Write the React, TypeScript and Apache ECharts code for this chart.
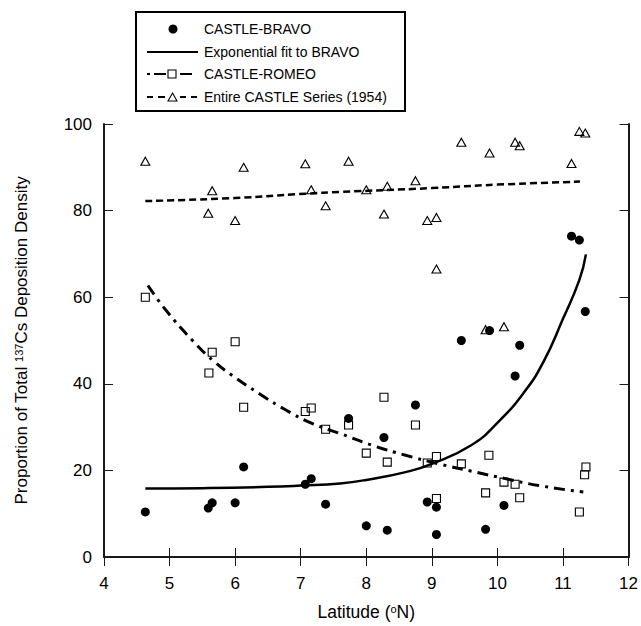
import React, { useEffect, useRef } from "react";
import * as echarts from "echarts";

// ---- Data ----
const bravoLat = [4.63, 5.59, 5.65, 6.0, 6.13, 7.07, 7.16, 7.38, 7.73, 8.0, 8.27, 8.32, 8.75, 8.93, 9.07, 9.07, 9.45, 9.82, 9.88, 10.1, 10.27, 10.34, 11.13, 11.25, 11.34];
const bravoVal = [10.4, 11.3, 12.5, 12.5, 20.8, 16.8, 18.1, 12.2, 32.0, 7.2, 27.6, 6.2, 35.1, 12.7, 11.5, 5.2, 50.0, 6.4, 52.3, 11.9, 41.8, 48.9, 74.1, 73.2, 56.7];

const romeoLat = [4.63, 5.6, 5.65, 6.0, 6.13, 7.07, 7.16, 7.38, 7.73, 8.0, 8.27, 8.32, 8.75, 8.93, 9.07, 9.07, 9.45, 9.82, 9.87, 10.1, 10.27, 10.34, 11.25, 11.33, 11.35];
const romeoVal = [60.0, 42.5, 47.3, 49.7, 34.6, 33.6, 34.4, 29.5, 30.5, 24.0, 36.9, 21.9, 30.5, 21.7, 23.2, 13.5, 21.5, 14.8, 23.5, 17.3, 16.8, 13.7, 10.4, 19.0, 20.8];

const castleLat = [4.63, 5.59, 5.65, 6.0, 6.13, 7.07, 7.16, 7.38, 7.73, 8.0, 8.27, 8.32, 8.75, 8.93, 9.07, 9.07, 9.45, 9.82, 9.88, 10.1, 10.27, 10.34, 11.13, 11.25, 11.34];
const castleVal = [91.4, 79.4, 84.6, 77.7, 90.0, 90.8, 84.8, 81.1, 91.4, 84.8, 79.2, 85.6, 86.9, 77.7, 78.4, 66.5, 95.8, 52.5, 93.3, 53.2, 95.8, 95.0, 90.9, 98.3, 97.9];

const bravoFitLat = [4.63, 5.5, 6.5, 7.0, 7.6, 8.0, 8.6, 9.0, 9.6, 10.0, 10.4, 10.7, 11.0, 11.25, 11.35];
const bravoFitVal = [15.8, 15.9, 16.2, 16.5, 17.0, 17.8, 19.6, 21.5, 25.8, 31.0, 37.9, 45.0, 55.0, 64.0, 69.9];

const romeoFitLat = [4.67, 4.95, 5.35, 5.66, 5.96, 6.37, 6.78, 7.18, 7.64, 8.09, 8.6, 9.11, 9.61, 10.12, 10.63, 11.31];
const romeoFitVal = [62.7, 56.9, 50.0, 45.4, 41.9, 37.7, 33.9, 30.8, 28.3, 25.8, 23.5, 21.5, 19.8, 18.1, 16.5, 15.0];

const castleFitLat = [4.63, 6.0, 7.07, 7.6, 9.0, 10.0, 11.26];
const castleFitVal = [82.2, 82.9, 83.9, 84.3, 85.2, 86.0, 86.7];

const legendLabels = [
  "CASTLE-BRAVO",
  "Exponential fit to BRAVO",
  "CASTLE-ROMEO",
  "Entire CASTLE Series (1954)",
];

const FONT = '"Liberation Sans", Arial, Helvetica, sans-serif';
const AXIS_COLOR = "#1a1a1a";

const pairs = (xs: number[], ys: number[]) => xs.map((x, i) => [x, ys[i]]);

export default function App() {
  const ref = useRef<HTMLDivElement>(null);

  useEffect(() => {
    document.body.style.margin = "0";
    if (!ref.current) return;
    const chart = echarts.init(ref.current, null, { renderer: "svg" });

    const rowY = [29, 52, 74, 97];
    const lx = 204;
    const seg = (x1: number, x2: number, y: number, w = 2) => ({
      type: "line",
      shape: { x1, y1: y, x2, y2: y },
      style: { stroke: "#000", lineWidth: w },
      z: 101,
    });

    const graphic: any[] = [
      {
        type: "rect",
        shape: { x: 136, y: 12, width: 269, height: 99 },
        style: { fill: "#fff", stroke: "#000", lineWidth: 2 },
        z: 100,
      },
      { type: "circle", shape: { cx: 173, cy: rowY[0], r: 4.5 }, style: { fill: "#000" }, z: 101 },
      seg(147, 198, rowY[1], 2),
      seg(147, 150, rowY[2], 2),
      seg(154, 166, rowY[2], 2),
      seg(180, 192, rowY[2], 2),
      {
        type: "rect",
        shape: { x: 168, y: rowY[2] - 4, width: 8, height: 8 },
        style: { fill: "#fff", stroke: "#000", lineWidth: 1.1 },
        z: 102,
      },
      seg(147, 153, rowY[3], 2),
      seg(158, 165, rowY[3], 2),
      seg(180, 186, rowY[3], 2),
      seg(191, 197, rowY[3], 2),
      {
        type: "polygon",
        shape: { points: [[172.5, rowY[3] - 4], [177, rowY[3] + 4], [168, rowY[3] + 4]] },
        style: { fill: "#fff", stroke: "#000", lineWidth: 1.1 },
        z: 102,
      },
      ...legendLabels.map((t, i) => ({
        type: "text",
        x: lx,
        y: rowY[i],
        style: {
          text: t,
          fontSize: 14,
          fontFamily: FONT,
          fill: "#000",
          verticalAlign: "middle",
          align: "left",
        },
        z: 103,
      })),
    ];

    const axisCommon = {
      type: "value",
      axisLine: { show: true, lineStyle: { color: AXIS_COLOR, width: 2 } },
      axisTick: { show: true, inside: true, length: 9, lineStyle: { color: AXIS_COLOR, width: 1 } },
      splitLine: { show: false },
    };

    chart.setOption({
      animation: false,
      backgroundColor: "#fff",
      grid: { left: 104, right: 11, top: 124, bottom: 69, containLabel: false },
      xAxis: [
        {
          ...axisCommon,
          position: "bottom",
          min: 4,
          max: 12,
          interval: 1,
          axisLabel: { show: true, fontSize: 17, fontFamily: FONT, color: "#000", margin: 18 },
          name: "Latitude ({sup|o}N)",
          nameLocation: "middle",
          nameGap: 46,
          nameTextStyle: {
            fontSize: 17.5,
            fontFamily: FONT,
            color: "#000",
            rich: { sup: { fontSize: 11, verticalAlign: "top", fontFamily: FONT, color: "#000" } },
          },
        },
        {
          ...axisCommon,
          position: "top",
          min: 4,
          max: 12,
          interval: 1,
          axisLabel: { show: false },
        },
      ],
      yAxis: [
        {
          ...axisCommon,
          position: "left",
          min: 0,
          max: 100,
          interval: 20,
          axisLabel: { show: true, fontSize: 17, fontFamily: FONT, color: "#000", margin: 12 },
          name: "Proportion of Total {sup|137}Cs Deposition Density",
          nameLocation: "middle",
          nameRotate: 90,
          nameGap: 74,
          nameTextStyle: {
            fontSize: 17,
            fontFamily: FONT,
            color: "#000",
            rich: { sup: { fontSize: 11, verticalAlign: "top", fontFamily: FONT, color: "#000" } },
          },
        },
        {
          ...axisCommon,
          position: "right",
          min: 0,
          max: 100,
          interval: 20,
          axisLabel: { show: false },
        },
      ],
      graphic,
      series: [
        {
          name: "CASTLE-ROMEO fit",
          type: "line",
          data: pairs(romeoFitLat, romeoFitVal),
          smooth: true,
          showSymbol: false,
          lineStyle: { color: "#000", width: 3, type: [11, 6, 3, 6] },
          z: 2,
        },
        {
          name: "Entire CASTLE fit",
          type: "line",
          data: pairs(castleFitLat, castleFitVal),
          smooth: true,
          showSymbol: false,
          lineStyle: { color: "#000", width: 2.5, type: [7, 4] },
          z: 2,
        },
        {
          name: "Exponential fit to BRAVO",
          type: "line",
          data: pairs(bravoFitLat, bravoFitVal),
          smooth: true,
          showSymbol: false,
          lineStyle: { color: "#000", width: 2.5 },
          z: 2,
        },
        {
          name: "CASTLE-ROMEO",
          type: "scatter",
          data: pairs(romeoLat, romeoVal),
          symbol: "rect",
          symbolSize: 8,
          itemStyle: { color: "rgba(255,255,255,0)", borderColor: "#000", borderWidth: 1.1, opacity: 1 },
          z: 3,
        },
        {
          name: "Entire CASTLE Series (1954)",
          type: "scatter",
          data: pairs(castleLat, castleVal),
          symbol: "triangle",
          symbolSize: [9, 8],
          itemStyle: { color: "rgba(255,255,255,0)", borderColor: "#000", borderWidth: 1.1, opacity: 1 },
          z: 3,
        },
        {
          name: "CASTLE-BRAVO",
          type: "scatter",
          data: pairs(bravoLat, bravoVal),
          symbol: "circle",
          symbolSize: 9,
          itemStyle: { color: "#000", opacity: 1 },
          z: 4,
        },
      ],
    });

    return () => chart.dispose();
  }, []);

  return <div ref={ref} style={{ width: 641, height: 626, position: "absolute", left: 0, top: 0 }} />;
}
